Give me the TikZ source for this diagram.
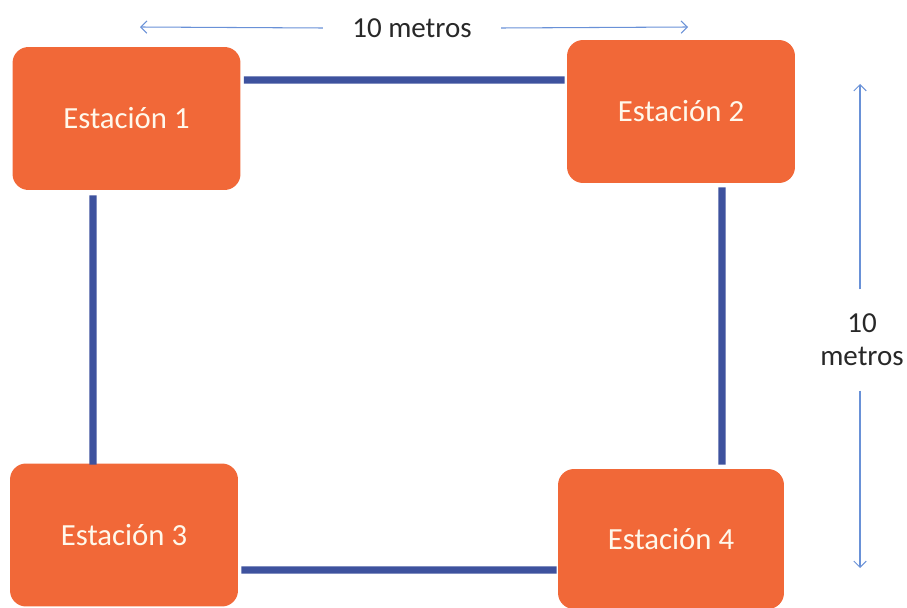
\documentclass[tikz,border=0pt]{standalone}
\usepackage{fontspec}
\setmainfont{Carlito}
\usetikzlibrary{arrows.meta}
\definecolor{estorange}{RGB}{241,104,56}
\definecolor{linkblue}{RGB}{62,82,158}
\definecolor{dimblue}{RGB}{105,145,215}
\begin{document}
\begin{tikzpicture}[x=0.02cm, y=-0.02cm, >={Straight Barb[length=3.5pt, width=7pt]},
    main node/.style={rectangle, rounded corners=0.32cm, fill=estorange, text={rgb,255:red,255;green,248;blue,235}, minimum width=4.56cm, minimum height=2.86cm, font=\fontsize{17.5}{20}\selectfont},
    link/.style={draw=linkblue, line width=4pt},
    dim/.style={->, draw=dimblue, line width=0.6pt}]
        \tikzstyle{every node}=[font=\fontsize{16.5}{19}\selectfont, text={rgb,255:red,40;green,40;blue,40}]
        \useasboundingbox (0,0) rectangle (907,608);

          \node[main node] (1) at (126.5,118.5) {Estación 1};
          \node[main node] (2) at (681,111.5) {Estación 2};
          \node[main node] (3) at (124,535) {Estación 3};
          \node[main node, minimum width=4.52cm, minimum height=2.8cm] (4) at (671,539) {Estación 4};

          % medidas
          \node[inner xsep=0.58cm] (h) at (412,28) {10 metros};
          \node[align=center, inner ysep=0.48cm] (v) at (862,340) {10\\metros};
          \coordinate (hl) at (140,27);
          \coordinate (hr) at (688,27);
          \coordinate (vt) at (860,84);
          \coordinate (vb) at (860,568);

          \path[link]
            ([xshift=0.06cm, yshift=0.77cm]1.east) edge ([xshift=-0.04cm, yshift=0.63cm]2.west)
            ([xshift=-0.67cm, yshift=-0.1cm]1.south) edge ([xshift=-0.62cm, yshift=-0.03cm]3.north)
            ([xshift=0.82cm, yshift=-0.08cm]2.south) edge ([xshift=1.02cm, yshift=0.08cm]4.north)
            ([xshift=0.06cm, yshift=-0.7cm]3.east) edge ([xshift=-0.02cm, yshift=-0.62cm]4.west);

          \draw[dim] (h.west) -- (hl);
          \draw[dim] (h.east) -- (hr);
          \draw[dim] (v.north -| vt) -- (vt);
          \draw[dim] (v.south -| vb) -- (vb);

        \end{tikzpicture}
\end{document}
